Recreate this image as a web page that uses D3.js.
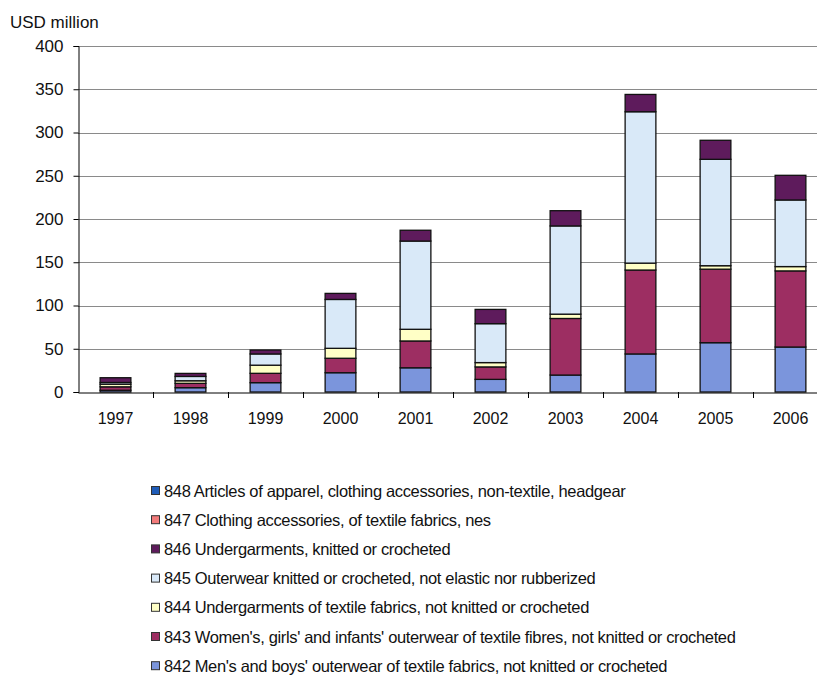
<!DOCTYPE html>
<html>
<head>
<meta charset="utf-8">
<script src="https://cdn.jsdelivr.net/npm/d3@7"></script>
<style>
  html, body { margin: 0; padding: 0; background: #fff; }
  svg { display: block; font-family: "Liberation Sans", Arial, sans-serif; }
</style>
</head>
<body>
<svg id="chart" width="817" height="688"></svg>
<script>
const years = ["1997","1998","1999","2000","2001","2002","2003","2004","2005","2006"];
const yTicks = [0, 50, 100, 150, 200, 250, 300, 350, 400];

// stacked bottom -> top
const s842 = [2, 5, 10.8, 22.3, 28, 14.6, 19.6, 44, 57, 52];
const s843 = [4, 5, 10.8, 16.7, 31, 14.4, 65.4, 97, 85, 88];
const s844 = [3, 3, 9.4, 11.5, 13.5, 5, 5, 8, 4, 5];
const s845 = [2, 5, 13, 56.5, 102, 45, 102, 175, 123, 77];
const s846 = [5.5, 3.5, 4.5, 7, 12.5, 16.5, 17.6, 20, 22, 28.5];
const s847 = [0, 0, 0, 0, 0, 0, 0, 0, 0, 0];
const s848 = [0, 0, 0, 0, 0, 0, 0, 0, 0, 0];

const seriesNames = [
  "842 Men's and boys' outerwear of textile fabrics, not knitted or crocheted",
  "843 Women's, girls' and infants' outerwear of textile fibres, not knitted or crocheted",
  "844 Undergarments of textile fabrics, not knitted or crocheted",
  "845 Outerwear knitted or crocheted, not elastic nor rubberized",
  "846 Undergarments, knitted or crocheted",
  "847 Clothing accessories, of textile fabrics, nes",
  "848 Articles of apparel, clothing accessories, non-textile, headgear"
];
const seriesColors = ["#7b95dc", "#9d2e62", "#ffffc6", "#d9e9f8", "#5e1b5c", "#f27a7a", "#1f5cb8"];
const seriesValues = [s842, s843, s844, s845, s846, s847, s848];

const svg = d3.select("#chart");
const mLeft = 78, mRight = 828, mTop = 46, mBottom = 392;

const x = d3.scaleBand().domain(years).range([mLeft, mRight]).paddingInner(0.59).paddingOuter(0.295);
const y = d3.scaleLinear().domain([0, 400]).range([mBottom, mTop]);

// gridlines
svg.append("g").selectAll("line").data(yTicks.filter(d => d > 0)).join("line")
  .attr("x1", mLeft).attr("x2", 817)
  .attr("y1", d => Math.round(y(d)) + 0.5).attr("y2", d => Math.round(y(d)) + 0.5)
  .attr("stroke", "#8a8a8a").attr("stroke-width", 1);

// stacked data
const keys = seriesNames.map((d, i) => i);
const table = years.map((yr, j) => {
  const o = { year: yr };
  keys.forEach(k => o[k] = seriesValues[k][j]);
  return o;
});
const stack = d3.stack().keys(keys)(table);

svg.append("g").selectAll("g").data(stack).join("g")
  .attr("fill", (d, i) => seriesColors[i])
  .selectAll("rect").data(d => d.filter(p => p[1] - p[0] > 0)).join("rect")
  .attr("x", d => x(d.data.year))
  .attr("width", x.bandwidth())
  .attr("y", d => y(d[1]))
  .attr("height", d => y(d[0]) - y(d[1]))
  .attr("stroke", "#111")
  .attr("stroke-width", 1.3);

// y axis
const yAxis = d3.axisLeft(y).tickValues(yTicks).tickSize(5).tickPadding(10);
const gy = svg.append("g").attr("transform", `translate(${mLeft + 0.5},0)`).call(yAxis);
gy.select(".domain").attr("stroke", "#000");
gy.selectAll(".tick line").attr("stroke", "#000");
gy.selectAll(".tick text").attr("font-size", 17).attr("fill", "#111")
  .attr("font-family", "Liberation Sans, Arial, sans-serif");

// x axis
const xAxis = d3.axisBottom(x).tickSize(0).tickPadding(20);
const gx = svg.append("g").attr("transform", `translate(0,${mBottom + 0.5})`).call(xAxis);
gx.select(".domain").attr("stroke", "#000");
gx.selectAll(".tick text").attr("font-size", 16).attr("fill", "#111")
  .attr("font-family", "Liberation Sans, Arial, sans-serif");
// boundary tick marks between categories
svg.append("g").selectAll("line").data(years.slice(1)).join("line")
  .attr("x1", d => Math.round(x(d) - x.step() * 0.295) + 0.5)
  .attr("x2", d => Math.round(x(d) - x.step() * 0.295) + 0.5)
  .attr("y1", mBottom).attr("y2", mBottom + 6)
  .attr("stroke", "#000");

// y title
svg.append("text").attr("x", 10).attr("y", 28).text("USD million")
  .attr("font-size", 17).attr("fill", "#111");

// legend (top to bottom reversed order)
const legendOrder = keys.slice().reverse();
const lg = svg.append("g").selectAll("g").data(legendOrder).join("g")
  .attr("transform", (d, i) => `translate(151,${491 + i * 29.2})`);
lg.append("rect").attr("x", 0.5).attr("y", -4.5).attr("width", 8).attr("height", 8)
  .attr("fill", d => seriesColors[d]).attr("stroke", "#333").attr("stroke-width", 1);
lg.append("text").attr("x", 13).attr("y", 5.5).text(d => seriesNames[d])
  .attr("font-size", 16.5).attr("fill", "#111").attr("letter-spacing", -0.35);
</script>
</body>
</html>
